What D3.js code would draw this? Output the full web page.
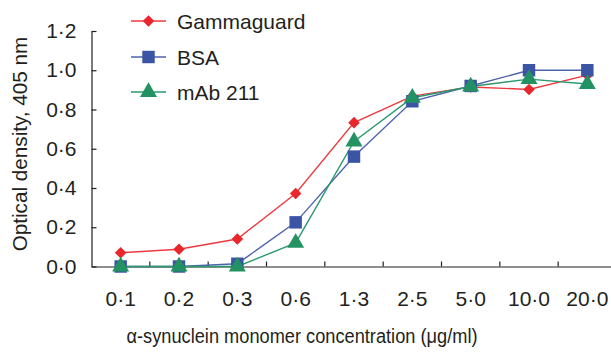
<!DOCTYPE html>
<html>
<head>
<meta charset="utf-8">
<script src="https://cdn.jsdelivr.net/npm/d3@7"></script>
<style>
  body { margin: 0; background: #fff; }
  text { font-family: "Liberation Sans", Arial, sans-serif; fill: #231f20; }
</style>
</head>
<body>
<div id="chart"></div>
<script>
// concentrations (ug/ml), shown as in the paper with a middle dot
var concentrations = ['0·1', '0·2', '0·3', '0·6', '1·3', '2·5', '5·0', '10·0', '20·0'];
var yTicks = [0, 0.2, 0.4, 0.6, 0.8, 1.0, 1.2];

var gammaguard = [0.07, 0.088, 0.14, 0.372, 0.733, 0.868, 0.915, 0.902, 0.975];
var bsa        = [0.0, 0.0, 0.014, 0.225, 0.56, 0.842, 0.92, 1.0, 1.0];
var mab211     = [0.0, 0.0, 0.0, 0.12, 0.637, 0.86, 0.917, 0.955, 0.93];

var seriesNames = ['Gammaguard', 'BSA', 'mAb 211'];

var dims = {
  width: 611,
  height: 352,
  left: 91.5,
  right: 616.5,
  top: 31,
  bottom: 266.5
};

var styles = [
  { line: '#ee3a3f', fill: '#e8262b', shape: d3.symbolDiamond2, size: 85 },
  { line: '#4d63ad', fill: '#3b54a4', shape: d3.symbolSquare, size: 155 },
  { line: '#2a9a6c', fill: '#229263', shape: d3.symbolTriangle, size: 125 }
];

var svg = d3.select('#chart').append('svg')
  .attr('width', dims.width)
  .attr('height', dims.height);

var x = d3.scaleBand().domain(concentrations).range([dims.left, dims.right]).padding(0);
var y = d3.scaleLinear().domain([0, 1.2]).range([dims.bottom, dims.top]);

var fmt = function(v) { return d3.format('.1f')(v).replace('.', '·'); };

// y axis, ticks pointing inward
var yAxis = svg.append('g')
  .attr('transform', 'translate(' + dims.left + ',0)')
  .call(d3.axisLeft(y).tickValues(yTicks).tickFormat(fmt).tickSize(-5).tickSizeOuter(0).tickPadding(15));
yAxis.select('.domain').attr('stroke', '#231f20').attr('stroke-width', 1.2);
yAxis.selectAll('.tick line').attr('stroke', '#231f20').attr('stroke-width', 1.2);
yAxis.selectAll('.tick text')
  .attr('font-size', 21)
  .attr('font-family', '"Liberation Sans", Arial, sans-serif')
  .attr('fill', '#231f20');

// x axis: labels at band centres, tick marks on band boundaries
var xAxis = svg.append('g')
  .attr('transform', 'translate(0,' + dims.bottom + ')')
  .call(d3.axisBottom(x).tickSize(0).tickPadding(25));
xAxis.select('.domain').attr('stroke', '#231f20').attr('stroke-width', 1.2);
xAxis.selectAll('.tick text')
  .attr('font-size', 21)
  .attr('font-family', '"Liberation Sans", Arial, sans-serif')
  .attr('fill', '#231f20');

xAxis.selectAll('.bound')
  .data(concentrations.slice(1))
  .enter().append('line')
  .attr('class', 'bound')
  .attr('x1', function(d) { return x(d); })
  .attr('x2', function(d) { return x(d); })
  .attr('y1', 0)
  .attr('y2', -5)
  .attr('stroke', '#231f20')
  .attr('stroke-width', 1.2);

// axis titles
svg.append('text')
  .attr('x', 302)
  .attr('y', 343)
  .attr('text-anchor', 'middle')
  .attr('font-size', 20)
  .attr('textLength', 351)
  .attr('lengthAdjust', 'spacingAndGlyphs')
  .text('α-synuclein monomer concentration (μg/ml)');

svg.append('text')
  .attr('transform', 'translate(27,144) rotate(-90)')
  .attr('text-anchor', 'middle')
  .attr('font-size', 20.7)
  .text('Optical density, 405 nm');

// data
var series = [gammaguard, bsa, mab211];
var line = d3.line()
  .x(function(d, i) { return x(concentrations[i]) + x.bandwidth() / 2; })
  .y(function(d) { return y(d); });

series.forEach(function(values, s) {
  svg.append('path')
    .attr('d', line(values))
    .attr('fill', 'none')
    .attr('stroke', styles[s].line)
    .attr('stroke-width', 1.4);
});

series.forEach(function(values, s) {
  svg.selectAll('.m' + s)
    .data(values)
    .enter().append('path')
    .attr('class', 'm' + s)
    .attr('transform', function(d, i) {
      return 'translate(' + (x(concentrations[i]) + x.bandwidth() / 2) + ',' + y(d) + ')';
    })
    .attr('d', d3.symbol().type(styles[s].shape).size(styles[s].size))
    .attr('fill', styles[s].fill);
});

// legend
var legend = svg.append('g');
var legendY = [21, 57, 92];
seriesNames.forEach(function(name, s) {
  var g = legend.append('g').attr('transform', 'translate(0,' + legendY[s] + ')');
  g.append('line')
    .attr('x1', 131).attr('x2', 166)
    .attr('stroke', styles[s].line)
    .attr('stroke-width', 1.4);
  g.append('path')
    .attr('transform', 'translate(148.5,0)')
    .attr('d', d3.symbol().type(styles[s].shape).size(styles[s].size))
    .attr('fill', styles[s].fill);
  g.append('text')
    .attr('x', 177)
    .attr('y', 0)
    .attr('dy', '0.36em')
    .attr('font-size', 21)
    .text(name);
});
</script>
</body>
</html>
